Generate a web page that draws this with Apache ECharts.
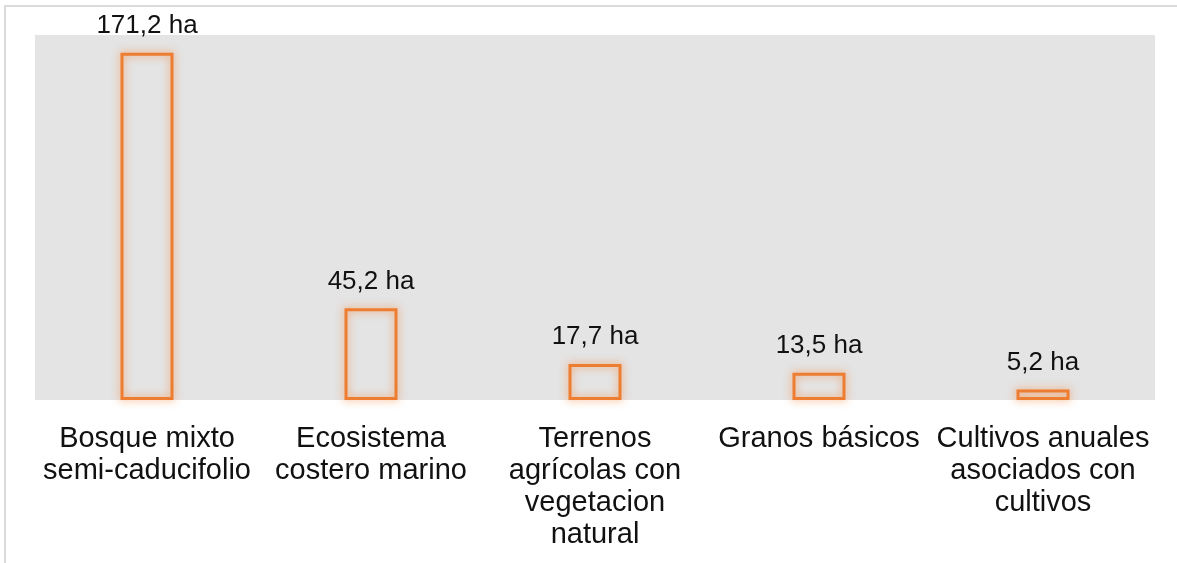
<!DOCTYPE html>
<html>
<head>
<meta charset="utf-8">
<script src="https://cdn.jsdelivr.net/npm/echarts@6/dist/echarts.min.js"></script>
<style>
  html, body { margin: 0; padding: 0; background: #ffffff; }
  #wrap { position: relative; width: 1177px; height: 563px; overflow: hidden; }
  #chart { position: absolute; left: 0; top: 0; width: 1177px; height: 563px; }
  #frame { position: absolute; left: 4px; top: 5px; right: 0; bottom: -5px;
           border-top: 2px solid #dadada; border-left: 2px solid #dadada; pointer-events: none; }
</style>
</head>
<body>
<div id="wrap">
  <div id="chart"></div>
  <div id="frame"></div>
</div>
<script>
const categories = [
  'Bosque mixto\nsemi-caducifolio',
  'Ecosistema\ncostero marino',
  'Terrenos\nagrícolas con\nvegetacion\nnatural',
  'Granos básicos',
  'Cultivos anuales\nasociados con\ncultivos'
];
const areaHa = [171.2, 45.2, 17.7, 13.5, 5.2];
const unitLabel = 'ha';

const chart = echarts.init(document.getElementById('chart'), null, { renderer: 'canvas' });
const FONT = 'Arial, "Liberation Sans", sans-serif';

chart.setOption({
  animation: false,
  backgroundColor: '#ffffff',
  grid: {
    left: 35, right: 22, top: 35, bottom: 163,
    show: true, backgroundColor: '#e4e4e4', borderWidth: 0
  },
  xAxis: {
    type: 'category',
    data: categories,
    axisLine: { show: false },
    axisTick: { show: false },
    axisLabel: {
      interval: 0,
      margin: 23,
      fontSize: 29,
      lineHeight: 32,
      color: '#111111',
      fontFamily: FONT,
      verticalAlign: 'top'
    }
  },
  yAxis: {
    type: 'value',
    min: 0, max: 180,
    show: false,
    splitLine: { show: false }
  },
  series: [{
    type: 'bar',
    data: areaHa,
    barWidth: 53,
    itemStyle: {
      color: 'none',
      borderColor: '#ED7D31',
      borderWidth: 3,
      shadowBlur: 8,
      shadowColor: 'rgba(243,140,70,0.9)'
    },
    label: {
      show: true,
      position: 'top',
      distance: 13,
      fontSize: 26,
      color: '#111111',
      fontFamily: FONT,
      formatter: p => p.value.toFixed(1).replace('.', ',') + ' ' + unitLabel
    }
  }]
});
</script>
</body>
</html>
